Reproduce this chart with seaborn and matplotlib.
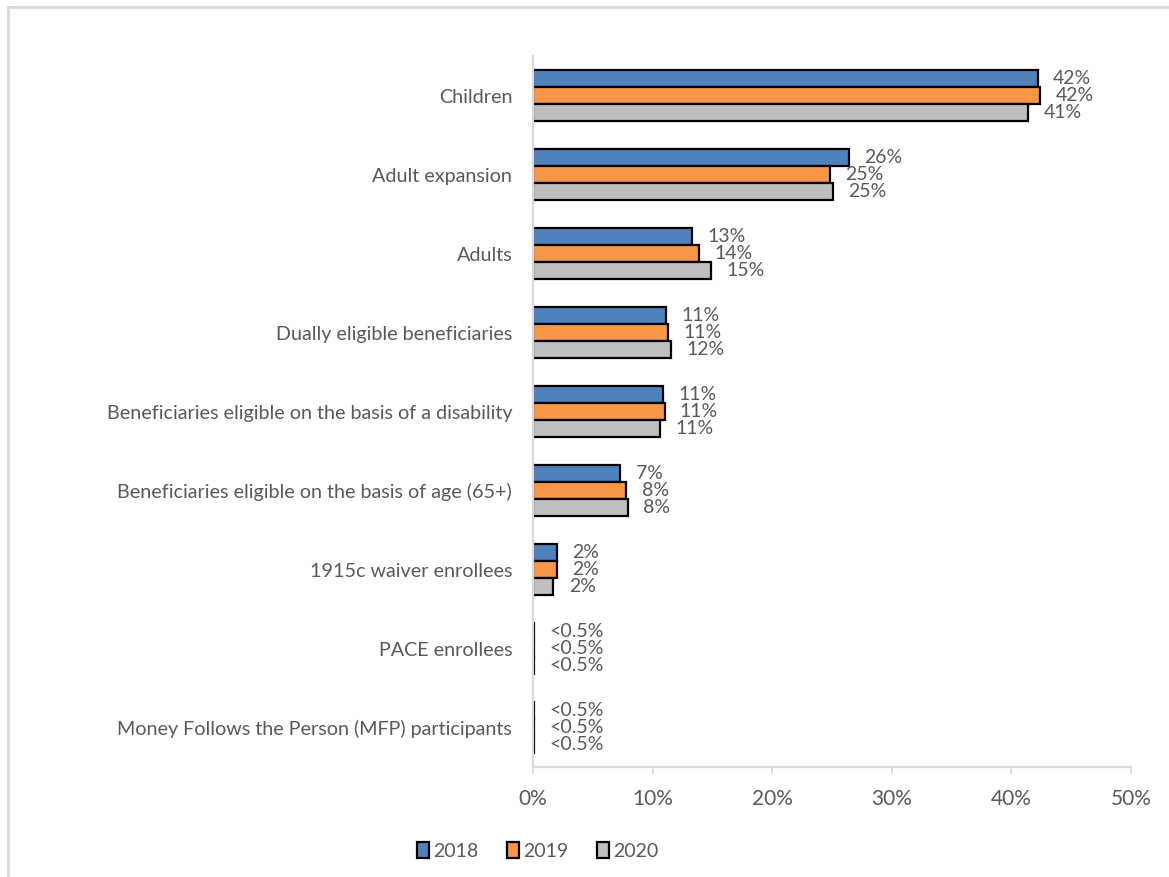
import matplotlib
matplotlib.use("Agg")
import matplotlib.pyplot as plt
from matplotlib.lines import Line2D
from matplotlib.patches import Patch
import pandas as pd
import seaborn as sns

# Share of enrollees by eligibility group, per year (percent)
categories = [
    "Children",
    "Adult expansion",
    "Adults",
    "Dually eligible beneficiaries",
    "Beneficiaries eligible on the basis of a disability",
    "Beneficiaries eligible on the basis of age (65+)",
    "1915c waiver enrollees",
    "PACE enrollees",
    "Money Follows the Person (MFP) participants",
]
years = ["2018", "2019", "2020"]
share_2018 = [42.2, 26.4, 13.3, 11.1, 10.9, 7.3, 2.0, 0.05, 0.05]
share_2019 = [42.4, 24.8, 13.9, 11.3, 11.0, 7.8, 2.0, 0.05, 0.05]
share_2020 = [41.4, 25.1, 14.9, 11.55, 10.6, 7.9, 1.7, 0.05, 0.05]
x_ticks = [0, 10, 20, 30, 40, 50]

palette = ["#4F81BD", "#F79646", "#BFBFBF"]
text_color = "#595959"
axis_color = "#D9D9D9"

df = pd.DataFrame({
    "category": categories * 3,
    "year": [y for y in years for _ in categories],
    "share": share_2018 + share_2019 + share_2020,
})

sns.set_theme(style="white")
plt.rcParams["font.family"] = ["Lato", "DejaVu Sans"]

fig = plt.figure(figsize=(11.69, 8.77), dpi=100)
ax = fig.add_axes([0.456, 0.1254, 0.5115, 0.8106])

sns.barplot(
    data=df, y="category", x="share", hue="year",
    order=categories, hue_order=years, palette=palette,
    orient="h", width=0.65, edgecolor="black", linewidth=1.6,
    saturation=1, legend=False, ax=ax,
)

# Value labels at the end of each bar
for container in ax.containers:
    labels = [f"{v:.0f}%" if v >= 0.5 else "<0.5%" for v in container.datavalues]
    ax.bar_label(container, labels=labels, padding=11, fontsize=14,
                 color=text_color)

ax.set_xlim(0, 50)
ax.set_xticks(x_ticks)
ax.set_xticklabels([f"{t}%" for t in x_ticks])
ax.set_xlabel("")
ax.set_ylabel("")

for side in ["top", "right"]:
    ax.spines[side].set_visible(False)
for side in ["left", "bottom"]:
    ax.spines[side].set_color(axis_color)
    ax.spines[side].set_linewidth(1.6)

ax.tick_params(axis="x", bottom=True, length=5, width=1.3, color=axis_color,
               pad=11, labelsize=15, labelcolor=text_color)
ax.tick_params(axis="y", left=False, pad=9, labelsize=14.2,
               labelcolor=text_color)
ax.grid(False)

handles = [Patch(facecolor=c, edgecolor="black", linewidth=1.6) for c in palette]
fig.legend(handles, years, loc="center", bbox_to_anchor=(0.46, 0.03),
           ncol=3, frameon=False, fontsize=14, labelcolor=text_color,
           handlelength=0.6, handleheight=0.9, handletextpad=0.2,
           columnspacing=1.5)

# Thin chart-area frame along the top and left edges
fig.add_artist(Line2D([8 / 1169, 1.0], [1 - 7 / 877, 1 - 7 / 877],
                      transform=fig.transFigure, color=axis_color, lw=2))
fig.add_artist(Line2D([8 / 1169, 8 / 1169], [0.0, 1 - 7 / 877],
                      transform=fig.transFigure, color=axis_color, lw=2))

fig.savefig("out.png", dpi=100, facecolor="white")
